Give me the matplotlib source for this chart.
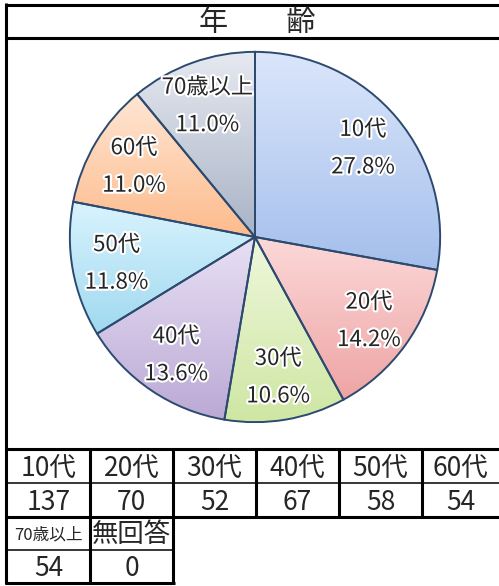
import numpy as np
import matplotlib
matplotlib.use("Agg")
import matplotlib.pyplot as plt
import matplotlib.patheffects as pe
from matplotlib.colors import LinearSegmentedColormap

plt.rcParams["font.family"] = ["Noto Sans CJK JP", "DejaVu Sans"]

title = "年　　齢"
ages = ["10代", "20代", "30代", "40代", "50代", "60代", "70歳以上"]
counts = [137, 70, 52, 67, 58, 54, 54]
extra_label = "無回答"
extra_count = 0

top_colors = ["#dbe6fb", "#fcd8d8", "#eef8dc", "#e8e0f4", "#d9f3fe", "#ffe6d4", "#e6e9f0"]
bottom_colors = ["#a4bfec", "#eea4a4", "#cfe6a3", "#bba9d5", "#a0d9ef", "#fdbb8c", "#a9b3c6"]

W, H = 499, 586
fig = plt.figure(figsize=(W / 100, H / 100), dpi=100)

# frame / table layer in pixel coordinates
bg = fig.add_axes([0, 0, 1, 1])
bg.set_xlim(0, W)
bg.set_ylim(H, 0)
bg.axis("off")

thick = 2.2
thin = 1.1


def hline(y, x0, x1, lw):
    bg.plot([x0, x1], [y, y], color="black", lw=lw, solid_capstyle="butt")


def vline(x, y0, y1, lw):
    bg.plot([x, x], [y0, y1], color="black", lw=lw, solid_capstyle="butt")


hline(4.5, 5, W, thick)
vline(6.5, 3, 584, thick)
hline(38, 5, W, thick)
hline(449, 5, W, thick)
hline(483, 7, W, thin)
hline(516.5, 5, W, thick)
hline(550, 7, 173, thin)
hline(583, 5, 175, thick)

col_edges = [7, 90, 173, 256, 339, 422, W]
for x in col_edges[1:-1]:
    vline(x, 449, 517, thick)
for x in col_edges[1:3]:
    vline(x, 516, 584, thick)

txt = "#262626"
fs = 19
bg.text(257, 23, title, ha="center", va="center", fontsize=21, color=txt)

for i in range(6):
    cx = (col_edges[i] + col_edges[i + 1]) / 2
    bg.text(cx, 468.5, ages[i], ha="center", va="center", fontsize=fs, color=txt)
    bg.text(cx, 502, str(counts[i]), ha="center", va="center", fontsize=fs, color=txt)

cx = (col_edges[0] + col_edges[1]) / 2
bg.text(cx, 535, ages[6], ha="center", va="center", fontsize=12, color=txt)
bg.text(cx, 569, str(counts[6]), ha="center", va="center", fontsize=fs, color=txt)
cx = (col_edges[1] + col_edges[2]) / 2
bg.text(cx, 535, extra_label, ha="center", va="center", fontsize=fs, color=txt)
bg.text(cx, 569, str(extra_count), ha="center", va="center", fontsize=fs, color=txt)

# pie
cxp, cyp, r = 255, 237, 187
ax = fig.add_axes([(cxp - r) / W, (H - cyp - r) / H, 2 * r / W, 2 * r / H])
wedges, _ = ax.pie(counts, startangle=90, counterclock=False,
                   wedgeprops=dict(edgecolor="#2c4a70", linewidth=1.4))

grad = np.linspace(0, 1, 256).reshape(-1, 1)
for w, c0, c1 in zip(wedges, top_colors, bottom_colors):
    w.set_facecolor("none")
    w.set_zorder(3)
    bb = w.get_path().get_extents(w.get_patch_transform())
    cmap = LinearSegmentedColormap.from_list("g", [c0, c1])
    im = ax.imshow(grad, cmap=cmap, extent=[bb.x0, bb.x1, bb.y0, bb.y1],
                   origin="upper", aspect="auto", zorder=2, interpolation="bilinear")
    im.set_clip_path(w)

total = sum(counts)
halo = [pe.withStroke(linewidth=3, foreground="white")]
for w, name, n in zip(wedges, ages, counts):
    mid = np.deg2rad((w.theta1 + w.theta2) / 2)
    x, y = 0.76 * np.cos(mid), 0.76 * np.sin(mid)
    t1 = ax.annotate(name, (x, y), xytext=(0, 12.5), textcoords="offset points",
                     ha="center", va="center", fontsize=16, color=txt, zorder=5)
    t2 = ax.annotate(f"{100 * n / total:.1f}%", (x, y), xytext=(0, -14.5),
                     textcoords="offset points", ha="center", va="center",
                     fontsize=16, color=txt, zorder=5)
    t1.set_path_effects(halo)
    t2.set_path_effects(halo)

ax.set_xlim(-1.01, 1.01)
ax.set_ylim(-1.01, 1.01)
ax.axis("off")

fig.savefig("out.png", dpi=100)
